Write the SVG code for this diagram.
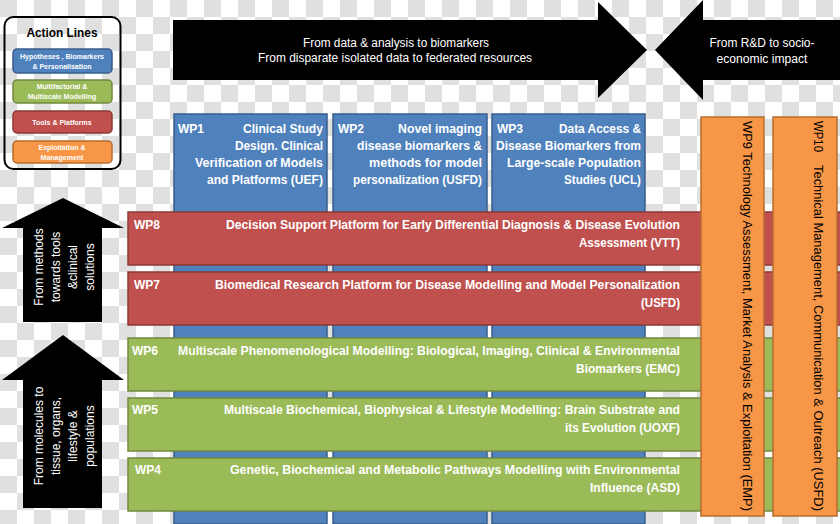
<svg xmlns="http://www.w3.org/2000/svg" width="840" height="524" viewBox="0 0 840 524">
<defs>
<pattern id="chk" width="34" height="34" patternUnits="userSpaceOnUse">
<rect width="34" height="34" fill="#ffffff"/>
<rect width="17" height="17" fill="#e0e0e0"/>
<rect x="17" y="17" width="17" height="17" fill="#e0e0e0"/>
</pattern>
</defs>
<style>
.t{font-family:"Liberation Sans",Arial,sans-serif;}
.w{fill:#ffffff;}
.b{font-weight:bold;}
.s12{font-size:12px;}
.s13{font-size:13px;}
.lg{font-size:7px;font-weight:bold;fill:#ffffff;text-anchor:middle;}
.mid{text-anchor:middle;}
.end{text-anchor:end;}
.blue{fill:#4f81bd;stroke:#385d8a;stroke-width:1.5;}
.red{fill:#c0504d;stroke:#8c3836;stroke-width:1.5;}
.green{fill:#9bbb59;stroke:#71893f;stroke-width:1.5;}
.orange{fill:#f79646;stroke:#b66d31;stroke-width:1.5;}
.arrow{fill:#000000;}
</style>
<rect width="840" height="524" fill="url(#chk)"/>

<g id="legend">
<rect x="4.5" y="17" width="116" height="152" rx="9" fill="none" stroke="#000" stroke-width="2"/>
<text class="t b s13 mid" x="62" y="37" textLength="71" lengthAdjust="spacingAndGlyphs">Action Lines</text>
<rect class="blue" x="13" y="49" width="99" height="24" rx="4"/>
<text class="t lg" x="62" y="59">Hypotheses , Biomarkers</text>
<text class="t lg" x="62" y="69">&amp; Personalisation</text>
<rect class="green" x="13" y="80" width="99" height="23" rx="4"/>
<text class="t lg" x="62" y="89">Multifactorial   &amp;</text>
<text class="t lg" x="62" y="99">Multiscale Modelling</text>
<rect class="red" x="13" y="111" width="99" height="22" rx="4"/>
<text class="t lg" x="62" y="125">Tools &amp; Platforms</text>
<rect class="orange" x="13" y="141" width="99" height="22" rx="4"/>
<text class="t lg" x="62" y="150">Exploitation  &amp;</text>
<text class="t lg" x="62" y="160">Management</text>
</g>

<g id="arrow-data">
<polygon class="arrow" points="173,20 598,20 598,2 647,50 598,98 598,80 173,80"/>
<text class="t w s12 mid" x="396" y="47" textLength="186" lengthAdjust="spacingAndGlyphs">From data &amp; analysis to biomarkers</text>
<text class="t w s12 mid" x="395" y="62" textLength="274" lengthAdjust="spacingAndGlyphs">From disparate isolated data to federated resources</text>
</g>

<g id="arrow-rnd">
<polygon class="arrow" points="840,20 703,20 703,0 655,50 703,100 703,80 840,80"/>
<text class="t w s12 mid" x="762" y="47" textLength="105" lengthAdjust="spacingAndGlyphs">From R&amp;D to socio-</text>
<text class="t w s12 mid" x="762" y="63" textLength="91" lengthAdjust="spacingAndGlyphs">economic impact</text>
</g>

<g id="arrow-methods">
<polygon class="arrow" points="23,322 23,228 2,228 63,198 124,228 102,228 102,322"/>
<g transform="translate(0,267) rotate(-90)">
<text class="t w s12 mid" x="0" y="43">From methods</text>
<text class="t w s12 mid" x="0" y="60">towards tools</text>
<text class="t w s12 mid" x="0" y="77">&amp;clinical</text>
<text class="t w s12 mid" x="0" y="94">solutions</text>
</g>
</g>

<g id="arrow-molecules">
<polygon class="arrow" points="23,508 23,380 2,380 63,335 124,380 102,380 102,508"/>
<g transform="translate(0,436) rotate(-90)">
<text class="t w s12 mid" x="0" y="43">From molecules to</text>
<text class="t w s12 mid" x="0" y="60">tissue, organs,</text>
<text class="t w s12 mid" x="0" y="77">lifestyle &amp;</text>
<text class="t w s12 mid" x="0" y="94">populations</text>
</g>
</g>

<g id="wp1">
<rect class="blue" x="174" y="114" width="153" height="410"/>
<text class="t w b s12" x="178" y="133">WP1</text>
<text class="t w b s12 end" x="323" y="133" textLength="80" lengthAdjust="spacingAndGlyphs">Clinical Study</text>
<text class="t w b s12 end" x="323" y="150" textLength="88" lengthAdjust="spacingAndGlyphs">Design. Clinical</text>
<text class="t w b s12 end" x="323" y="167" textLength="128" lengthAdjust="spacingAndGlyphs">Verification of Models</text>
<text class="t w b s12 end" x="323" y="184" textLength="116" lengthAdjust="spacingAndGlyphs">and Platforms (UEF)</text>
</g>
<g id="wp2">
<rect class="blue" x="333" y="114" width="154" height="410"/>
<text class="t w b s12" x="338" y="133">WP2</text>
<text class="t w b s12 end" x="482" y="133" textLength="84" lengthAdjust="spacingAndGlyphs">Novel imaging</text>
<text class="t w b s12 end" x="482" y="150" textLength="125" lengthAdjust="spacingAndGlyphs">disease biomarkers &amp;</text>
<text class="t w b s12 end" x="482" y="167" textLength="113" lengthAdjust="spacingAndGlyphs">methods for model</text>
<text class="t w b s12 end" x="482" y="184" textLength="129" lengthAdjust="spacingAndGlyphs">personalization (USFD)</text>
</g>
<g id="wp3">
<rect class="blue" x="492" y="114" width="153" height="410"/>
<text class="t w b s12" x="497" y="133">WP3</text>
<text class="t w b s12 end" x="641" y="133" textLength="82" lengthAdjust="spacingAndGlyphs">Data Access &amp;</text>
<text class="t w b s12 end" x="641" y="150" textLength="145" lengthAdjust="spacingAndGlyphs">Disease Biomarkers from</text>
<text class="t w b s12 end" x="641" y="167" textLength="134" lengthAdjust="spacingAndGlyphs">Large-scale Population</text>
<text class="t w b s12 end" x="641" y="184" textLength="77" lengthAdjust="spacingAndGlyphs">Studies (UCL)</text>
</g>

<g id="wp8">
<rect class="red" x="128" y="212" width="720" height="53"/>
<text class="t w b s12" x="134" y="229">WP8</text>
<text class="t w b s12 end" x="680" y="229" textLength="454" lengthAdjust="spacingAndGlyphs">Decision Support Platform for Early Differential Diagnosis &amp; Disease Evolution</text>
<text class="t w b s12 end" x="680" y="247" textLength="101" lengthAdjust="spacingAndGlyphs">Assessment (VTT)</text>
</g>
<g id="wp7">
<rect class="red" x="128" y="272" width="720" height="53"/>
<text class="t w b s12" x="134" y="289">WP7</text>
<text class="t w b s12 end" x="680" y="289" textLength="465" lengthAdjust="spacingAndGlyphs">Biomedical Research Platform for Disease Modelling and Model Personalization</text>
<text class="t w b s12 end" x="680" y="307" textLength="39" lengthAdjust="spacingAndGlyphs">(USFD)</text>
</g>
<g id="wp6">
<rect class="green" x="128" y="338" width="720" height="53"/>
<text class="t w b s12" x="132" y="355">WP6</text>
<text class="t w b s12 end" x="680" y="355" textLength="502" lengthAdjust="spacingAndGlyphs">Multiscale Phenomenological Modelling: Biological, Imaging, Clinical &amp; Environmental</text>
<text class="t w b s12 end" x="680" y="373" textLength="104" lengthAdjust="spacingAndGlyphs">Biomarkers (EMC)</text>
</g>
<g id="wp5">
<rect class="green" x="128" y="398" width="720" height="53"/>
<text class="t w b s12" x="132" y="414">WP5</text>
<text class="t w b s12 end" x="680" y="414" textLength="456" lengthAdjust="spacingAndGlyphs">Multiscale Biochemical, Biophysical &amp; Lifestyle Modelling: Brain Substrate and</text>
<text class="t w b s12 end" x="680" y="432" textLength="115" lengthAdjust="spacingAndGlyphs">its Evolution (UOXF)</text>
</g>
<g id="wp4">
<rect class="green" x="128" y="458" width="720" height="53"/>
<text class="t w b s12" x="135" y="474">WP4</text>
<text class="t w b s12 end" x="680" y="474" textLength="450" lengthAdjust="spacingAndGlyphs">Genetic, Biochemical and Metabolic Pathways Modelling with Environmental</text>
<text class="t w b s12 end" x="680" y="492" textLength="90" lengthAdjust="spacingAndGlyphs">Influence (ASD)</text>
</g>

<g id="wp9">
<rect class="orange" x="701" y="117" width="63" height="399"/>
<text class="t s13" fill="#000" transform="translate(743,121) rotate(90)" x="0" y="0" textLength="390" lengthAdjust="spacingAndGlyphs">WP9 Technology Assessment, Market Analysis &amp; Exploitation (EMP)</text>
</g>
<g id="wp10">
<rect class="orange" x="773" y="117" width="64" height="399"/>
<text class="t s13" fill="#000" transform="translate(814,121) rotate(90)" x="0" y="0" textLength="31" lengthAdjust="spacingAndGlyphs">WP10</text>
<text class="t s13" fill="#000" transform="translate(814,165) rotate(90)" x="0" y="0" textLength="346" lengthAdjust="spacingAndGlyphs">Technical Management, Communication &amp; Outreach (USFD)</text>
</g>

<g id="connectors"></g>
</svg>
